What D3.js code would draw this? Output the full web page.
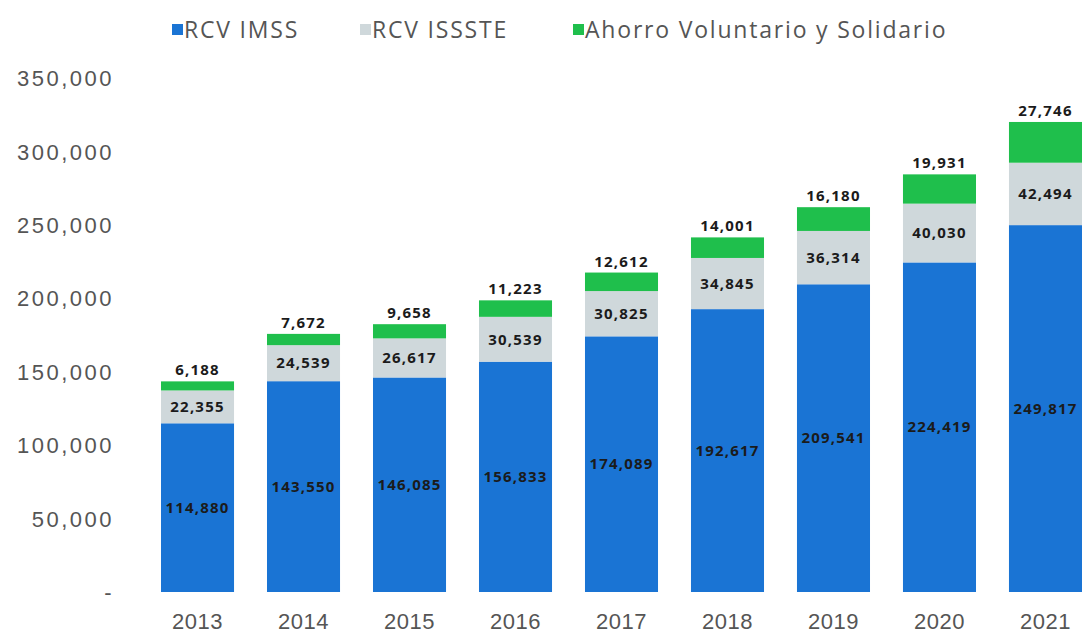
<!DOCTYPE html>
<html>
<head>
<meta charset="utf-8">
<script src="https://cdn.jsdelivr.net/npm/d3@7"></script>
<style>
  body { margin: 0; background: #fff; }
  svg { display: block; font-family: "Open Sans", "DejaVu Sans", sans-serif; }
  .tick text { fill: #555; }
  .val { font-weight: 700; fill: #1b1b1b; }
</style>
</head>
<body>
<svg id="graphsvg" width="1082" height="639"></svg>
<script>
// data
var years = ["2013","2014","2015","2016","2017","2018","2019","2020","2021"];
var rcvImss = [114880, 143550, 146085, 156833, 174089, 192617, 209541, 224419, 249817];
var rcvIssste = [22355, 24539, 26617, 30539, 30825, 34845, 36314, 40030, 42494];
var ahorro = [6188, 7672, 9658, 11223, 12612, 14001, 16180, 19931, 27746];
var seriesNames = ["RCV IMSS", "RCV ISSSTE", "Ahorro Voluntario y Solidario"];
var yTicks = [0, 50000, 100000, 150000, 200000, 250000, 300000, 350000];

var svg = d3.select("#graphsvg");
var colors = ["#1a74d4", "#cfd8db", "#1fbf4c"];

// table for d3.stack
var data = years.map(function(y, i) {
  return { year: y, imss: rcvImss[i], issste: rcvIssste[i], ahorro: ahorro[i] };
});
var keys = ["imss", "issste", "ahorro"];
var stacked = d3.stack().keys(keys)(data);

var y = d3.scaleLinear().domain([0, 350000]).range([592, 78]);
var x = d3.scaleBand().domain(years).range([161, 1082]).paddingInner(0.311).paddingOuter(0);

var fmt = d3.format(",");

// y axis, no line
var yAxis = svg.append("g")
  .attr("transform", "translate(114,0)")
  .call(d3.axisLeft(y).tickValues(yTicks).tickSize(0).tickPadding(0)
    .tickFormat(function(d) { return d === 0 ? "-" : fmt(d); }));
yAxis.select(".domain").remove();
yAxis.selectAll("text")
  .style("font-size", "22px")
  .style("letter-spacing", "2.5px")
  .attr("dy", "0.35em");

// x axis
var xAxis = svg.append("g")
  .attr("transform", "translate(0,592)")
  .call(d3.axisBottom(x).tickSize(0).tickPadding(21));
xAxis.select(".domain").remove();
xAxis.selectAll("text").style("font-size", "22px").style("letter-spacing", "0.5px");

// bars
var layer = svg.append("g").selectAll("g")
  .data(stacked)
  .enter().append("g")
  .attr("fill", function(d, i) { return colors[i]; });

layer.selectAll("rect")
  .data(function(d) { return d; })
  .enter().append("rect")
  .attr("x", function(d) { return x(d.data.year); })
  .attr("y", function(d) { return y(d[1]); })
  .attr("height", function(d) { return y(d[0]) - y(d[1]); })
  .attr("width", x.bandwidth());

// value labels
stacked.forEach(function(s, si) {
  svg.append("g").selectAll("text")
    .data(s)
    .enter().append("text")
    .attr("class", "val")
    .attr("text-anchor", "middle")
    .style("font-size", "15px")
    .style("letter-spacing", "1.2px")
    .attr("x", function(d) { return x(d.data.year) + x.bandwidth() / 2; })
    .attr("y", function(d) {
      if (si === 2) return y(d[1]) - 6;
      return (y(d[0]) + y(d[1])) / 2;
    })
    .attr("dy", si === 2 ? "0" : "0.35em")
    .text(function(d) { return fmt(d[1] - d[0]); });
});

// legend
var legendX = [172, 360, 573];
var legend = svg.append("g").selectAll("g")
  .data(seriesNames)
  .enter().append("g")
  .attr("transform", function(d, i) { return "translate(" + legendX[i] + ",24)"; });
legend.append("rect")
  .attr("width", 11).attr("height", 11)
  .attr("fill", function(d, i) { return colors[i]; });
legend.append("text")
  .attr("x", 12).attr("y", 6)
  .attr("dy", "0.35em")
  .style("font-size", "23px")
  .style("letter-spacing", "1.8px")
  .attr("fill", "#555")
  .text(function(d) { return d; });
</script>
</body>
</html>
